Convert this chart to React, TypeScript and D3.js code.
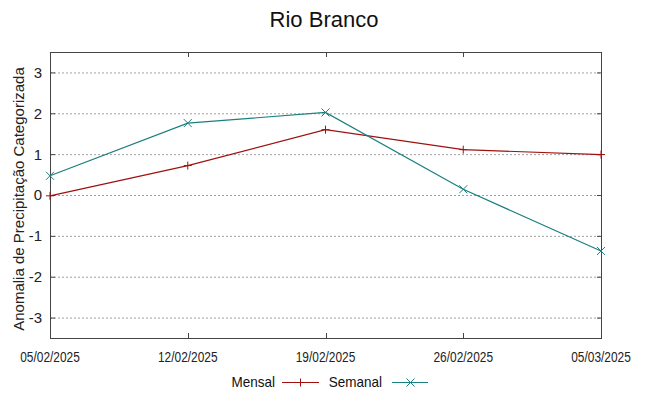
import { useEffect, useRef } from "react";
import * as d3 from "d3";

const dates = ["05/02/2025", "12/02/2025", "19/02/2025", "26/02/2025", "05/03/2025"];
const mensal = [-0.02, 0.72, 1.6, 1.11, 0.99];
const semanal = [0.47, 1.76, 2.02, 0.14, -1.37];
const yTicks = [-3, -2, -1, 0, 1, 2, 3];

const W = 649;
const H = 396;
const margin = { top: 52, right: 48, bottom: 58, left: 50 };

const App = () => {
  const svgRef = useRef<SVGSVGElement>(null);

  useEffect(() => {
    const svg = d3.select(svgRef.current);
    svg.selectAll("*").remove();

    const parse = d3.timeParse("%d/%m/%Y");
    const xDates = dates.map(d => parse(d) as Date);

    const x = d3
      .scaleTime()
      .domain([xDates[0], xDates[xDates.length - 1]])
      .range([margin.left, W - margin.right]);

    const y = d3
      .scaleLinear()
      .domain([-3.5, 3.5])
      .range([H - margin.bottom, margin.top]);

    const x0 = margin.left;
    const x1 = W - margin.right;
    const y0 = H - margin.bottom;
    const y1 = margin.top;

    // grid
    svg.append("g")
      .selectAll("line")
      .data(yTicks)
      .join("line")
      .attr("x1", x0)
      .attr("x2", x1)
      .attr("y1", d => y(d) + 0.5)
      .attr("y2", d => y(d) + 0.5)
      .attr("stroke", "#a0a0a0")
      .attr("stroke-width", 1)
      .attr("stroke-dasharray", "2,2");

    // frame
    svg.append("rect")
      .attr("x", x0 + 0.5)
      .attr("y", y1 + 0.5)
      .attr("width", x1 - x0)
      .attr("height", y0 - y1)
      .attr("fill", "none")
      .attr("stroke", "#444")
      .attr("stroke-width", 1);

    // ticks (inward, mirrored)
    const tk = svg.append("g").attr("stroke", "#444");
    yTicks.forEach(t => {
      tk.append("line").attr("x1", x0).attr("x2", x0 + 5).attr("y1", y(t) + 0.5).attr("y2", y(t) + 0.5);
      tk.append("line").attr("x1", x1 - 4).attr("x2", x1).attr("y1", y(t) + 0.5).attr("y2", y(t) + 0.5);
    });
    xDates.forEach((d, i) => {
      if (i === 0 || i === xDates.length - 1) return;
      const px = Math.round(x(d)) + 0.5;
      tk.append("line").attr("x1", px).attr("x2", px).attr("y1", y0).attr("y2", y0 - 5);
      tk.append("line").attr("x1", px).attr("x2", px).attr("y1", y1).attr("y2", y1 + 5);
    });

    // y labels
    svg.append("g")
      .selectAll("text")
      .data(yTicks)
      .join("text")
      .attr("x", x0 - 8)
      .attr("y", d => y(d))
      .attr("dy", "0.36em")
      .attr("text-anchor", "end")
      .attr("font-family", "Liberation Sans, Arial, sans-serif")
      .attr("font-size", 15)
      .attr("fill", "#222")
      .text(d => d);

    // x labels (condensed look)
    svg.append("g")
      .selectAll("text")
      .data(xDates)
      .join("text")
      .attr("transform", d => `translate(${x(d)},${y0 + 24}) scale(0.85,1)`)
      .attr("text-anchor", "middle")
      .attr("font-family", "Liberation Sans, Arial, sans-serif")
      .attr("font-size", 14)
      .attr("fill", "#222")
      .text((d, i) => dates[i]);

    // axis title
    svg.append("text")
      .attr("transform", `translate(24,${(y0 + y1) / 2 + 4}) rotate(-90)`)
      .attr("text-anchor", "middle")
      .attr("font-family", "Liberation Sans, Arial, sans-serif")
      .attr("font-size", 15)
      .attr("fill", "#222")
      .text("Anomalia de Precipitação Categorizada");

    // title
    svg.append("text")
      .attr("x", 324)
      .attr("y", 27)
      .attr("text-anchor", "middle")
      .attr("font-family", "Liberation Sans, Arial, sans-serif")
      .attr("font-size", 22)
      .attr("fill", "#111")
      .text("Rio Branco");

    const line = d3.line<number>()
      .x((d, i) => x(xDates[i]))
      .y(d => y(d));

    const series = [
      { name: "Mensal", values: mensal, color: "#a01010", mark: "plus" },
      { name: "Semanal", values: semanal, color: "#1a7f7f", mark: "cross" }
    ];

    const drawMark = (g, cx, cy, mark, color) => {
      const s = 4;
      if (mark === "plus") {
        g.append("path").attr("d", `M${cx - s},${cy}H${cx + s}M${cx},${cy - s}V${cy + s}`)
          .attr("stroke", color).attr("fill", "none");
      } else {
        g.append("path").attr("d", `M${cx - s},${cy - s}L${cx + s},${cy + s}M${cx - s},${cy + s}L${cx + s},${cy - s}`)
          .attr("stroke", color).attr("fill", "none");
      }
    };

    series.forEach(s => {
      const g = svg.append("g");
      g.append("path")
        .datum(s.values)
        .attr("d", line)
        .attr("fill", "none")
        .attr("stroke", s.color)
        .attr("stroke-width", 1.2);
      s.values.forEach((v, i) => drawMark(g, x(xDates[i]), y(v), s.mark, s.color));
    });

    // legend
    const lg = svg.append("g").attr("font-family", "Liberation Sans, Arial, sans-serif").attr("font-size", 15).attr("fill", "#111");
    lg.append("text").attr("transform", "translate(275,387) scale(0.9,1)").attr("text-anchor", "end").text("Mensal");
    lg.append("line").attr("x1", 282).attr("x2", 319).attr("y1", 382.5).attr("y2", 382.5).attr("stroke", series[0].color);
    drawMark(lg, 300.5, 382.5, "plus", series[0].color);
    lg.append("text").attr("transform", "translate(382,387) scale(0.9,1)").attr("text-anchor", "end").text("Semanal");
    lg.append("line").attr("x1", 392).attr("x2", 428).attr("y1", 382.5).attr("y2", 382.5).attr("stroke", series[1].color);
    drawMark(lg, 410.5, 382.5, "cross", series[1].color);
  }, []);

  return (
    <svg ref={svgRef} width={W} height={H} style={{ display: "block", position: "absolute", left: 0, top: 0, background: "#fff" }} />
  );
};

export default App;
